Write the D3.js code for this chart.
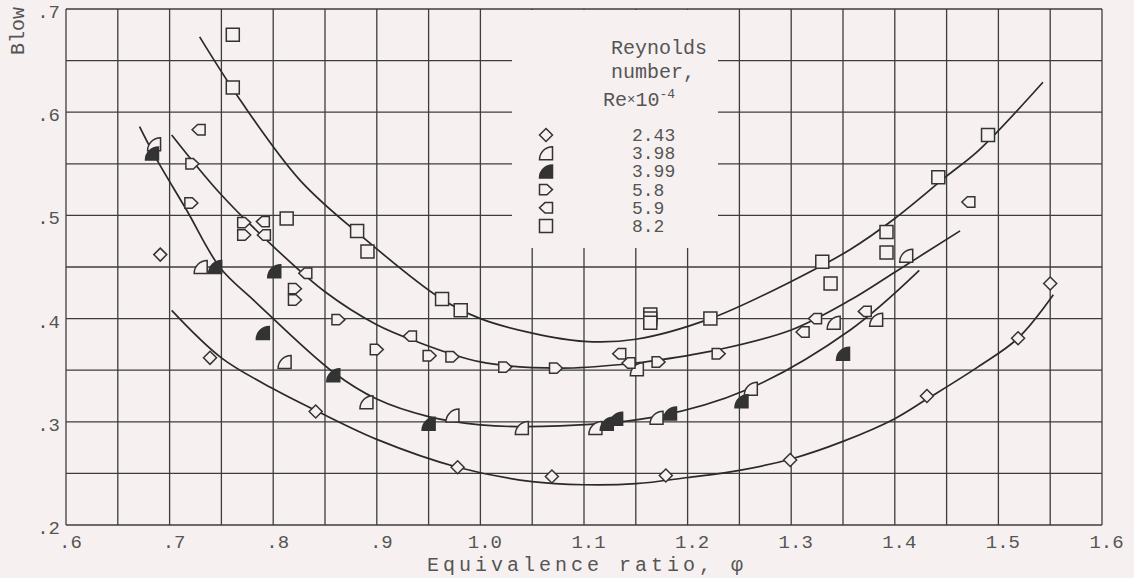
<!DOCTYPE html>
<html><head><meta charset="utf-8">
<script src="https://cdn.jsdelivr.net/npm/d3@7"></script>
<style>
html,body{margin:0;padding:0;background:#f6f1f0;}
svg{display:block;}
text{font-family:"Liberation Mono","DejaVu Sans Mono",monospace;fill:#555;}
</style></head>
<body><svg id="c" width="1134" height="578"></svg>
<script>
// ---- data ----
const xTicks = [0.6,0.7,0.8,0.9,1.0,1.1,1.2,1.3,1.4,1.5,1.6];
const xTickLabels = [".6",".7",".8",".9","1.0","1.1","1.2","1.3","1.4","1.5","1.6"];
const yTicks = [0.2,0.3,0.4,0.5,0.6,0.7];
const yTickLabels = [".2",".3",".4",".5",".6",".7"];
const legendLabels = ["2.43","3.98","3.99","5.8","5.9","8.2"];

const re243 = [[.691,.462],[.739,.362],[.841,.310],[.978,.256],[1.069,.247],[1.179,.248],[1.299,.263],[1.431,.325],[1.519,.381],[1.550,.434]];
const re398 = [[.685,.569],[.730,.450],[.811,.358],[.890,.319],[.973,.306],[1.040,.294],[1.111,.294],[1.151,.351],[1.170,.304],[1.261,.332],[1.341,.396],[1.382,.399],[1.411,.461]];
const re399 = [[.683,.560],[.744,.450],[.790,.386],[.801,.446],[.858,.345],[.950,.298],[1.122,.298],[1.131,.303],[1.183,.308],[1.252,.320],[1.350,.366]];
const re58  = [[.722,.550],[.721,.512],[.772,.493],[.772,.481],[.821,.429],[.821,.418],[.863,.399],[.900,.370],[.951,.364],[.973,.363],[1.024,.353],[1.073,.352],[1.172,.358],[1.230,.366]];
const re59  = [[.728,.583],[.790,.494],[.791,.481],[.831,.444],[.932,.383],[1.134,.366],[1.143,.357],[1.311,.387],[1.323,.400],[1.371,.407],[1.471,.513]];
const re82  = [[.761,.675],[.761,.624],[.813,.497],[.881,.485],[.891,.465],[.963,.419],[.981,.408],[1.164,.404],[1.164,.400],[1.164,.396],[1.222,.400],[1.330,.455],[1.338,.434],[1.392,.484],[1.392,.464],[1.442,.537],[1.490,.578]];

const curveA = [[.729,.673],[.768,.612],[.826,.534],[.884,.481],[.961,.420],[1.0,.400],[1.05,.386],[1.10,.378],[1.15,.380],[1.222,.400],[1.30,.436],[1.357,.467],[1.40,.497],[1.45,.538],[1.481,.563],[1.543,.629]];
const curveB = [[.702,.578],[.749,.521],[.80,.470],[.85,.426],[.90,.394],[.935,.379],[1.0,.358],[1.077,.352],[1.141,.356],[1.173,.360],[1.230,.370],[1.30,.389],[1.357,.418],[1.40,.445],[1.463,.485]];
const curveC = [[.671,.586],[.686,.557],[.7165,.505],[.749,.449],[.781,.418],[.858,.348],[.90,.322],[.95,.305],[1.0,.297],[1.077,.296],[1.170,.305],[1.257,.331],[1.357,.389],[1.4236,.4467]];
const curveD = [[.702,.408],[.75,.362],[.80,.332],[.841,.311],[.90,.283],[.978,.256],[1.05,.242],[1.10,.239],[1.15,.240],[1.20,.246],[1.25,.253],[1.30,.264],[1.35,.281],[1.40,.303],[1.431,.322],[1.48,.353],[1.519,.381],[1.553,.423]];

// ---- drawing ----
const BG = "#f6f1f0", INK = "#333";
const svg = d3.select("#c");
const x = d3.scaleLinear().domain([0.6,1.6]).range([66,1102]);
const y = d3.scaleLinear().domain([0.2,0.7]).range([525,9]);

const gridX = d3.range(0,21).map(i=>0.6+i*0.05);
const gridY = d3.range(0,11).map(i=>0.2+i*0.05);
const grid = svg.append("g").attr("stroke","#3d3d3d").attr("stroke-width",1.3);
grid.selectAll("line.v").data(gridX).join("line").attr("class","v")
  .attr("x1",d=>x(d)).attr("x2",d=>x(d)).attr("y1",y(0.7)).attr("y2",y(0.2));
grid.selectAll("line.h").data(gridY).join("line").attr("class","h")
  .attr("x1",x(0.6)).attr("x2",x(1.6)).attr("y1",d=>y(d)).attr("y2",d=>y(d));

// legend blank area
svg.append("rect").attr("x",512).attr("y",10).attr("width",206).attr("height",238).attr("fill",BG);

// axes labels via d3 axes
const ax = svg.append("g").attr("transform",`translate(0,${y(0.2)})`)
  .call(d3.axisBottom(x).tickValues(xTicks).tickSize(0).tickPadding(10).tickFormat((d,i)=>xTickLabels[i]));
ax.select(".domain").remove();
ax.selectAll("text").attr("font-size",19).attr("dx",4).attr("fill","#555").attr("font-family","Liberation Mono");
const ay = svg.append("g").attr("transform",`translate(${x(0.6)},0)`)
  .call(d3.axisLeft(y).tickValues(yTicks).tickSize(0).tickPadding(6).tickFormat((d,i)=>yTickLabels[i]));
ay.select(".domain").remove();
ay.selectAll("text").attr("font-size",19).attr("fill","#555").attr("font-family","Liberation Mono").attr("dy","0.45em");

svg.append("text").attr("x",587).attr("y",571).attr("text-anchor","middle").attr("font-size",20)
  .attr("letter-spacing",4).text("Equivalence ratio, φ");
svg.append("text").attr("transform","translate(24,55) rotate(-90)").attr("font-size",20).text("Blow");

// curves
const line = d3.line().x(d=>x(d[0])).y(d=>y(d[1])).curve(d3.curveCatmullRom.alpha(0.5));
[curveA,curveB,curveC,curveD].forEach(c=>{
  svg.append("path").attr("d",line(c)).attr("fill","none").attr("stroke","#2a2a2a").attr("stroke-width",1.7);
});

// marker shapes
const h = 6.5;
const shapes = {
  diamond: `M0,${-h} L${h},0 L0,${h} L${-h},0 Z`,
  quarter: `M${h},${h} L${-h},${h} A${2*h},${2*h} 0 0 1 ${h},${-h} Z`,
  right: `M${-h},${-h*0.8} L${h*0.15},${-h*0.8} L${h},0 L${h*0.15},${h*0.8} L${-h},${h*0.8} Z`,
  left: `M${h},${-h*0.8} L${-h*0.15},${-h*0.8} L${-h},0 L${-h*0.15},${h*0.8} L${h},${h*0.8} Z`,
  square: `M${-h},${-h} L${h},${-h} L${h},${h} L${-h},${h} Z`
};
const series = [
  {data:re243, shape:"diamond", fill:BG},
  {data:re398, shape:"quarter", fill:BG},
  {data:re399, shape:"quarter", fill:"#333"},
  {data:re58,  shape:"right", fill:BG},
  {data:re59,  shape:"left", fill:BG},
  {data:re82,  shape:"square", fill:BG}
];
series.forEach(s=>{
  svg.append("g").selectAll("path").data(s.data).join("path")
    .attr("transform",d=>`translate(${x(d[0])},${y(d[1])})`)
    .attr("d",shapes[s.shape]).attr("fill",s.fill).attr("stroke",INK).attr("stroke-width",1.5);
});

// legend
const lg = svg.append("g");
lg.append("text").attr("x",611).attr("y",54).attr("font-size",20).text("Reynolds");
lg.append("text").attr("x",611).attr("y",78).attr("font-size",20).text("number,");
const re = lg.append("text").attr("x",603).attr("y",106).attr("font-size",20);
re.append("tspan").text("Re");
re.append("tspan").attr("font-size",14).attr("dy",-2).text("×");
re.append("tspan").attr("dy",2).text("10");
re.append("tspan").attr("font-size",13).attr("dy",-8).text("-4");
series.forEach((s,i)=>{
  const cy = 135 + i*18.2;
  lg.append("path").attr("transform",`translate(546,${cy})`).attr("d",shapes[s.shape])
    .attr("fill",s.fill).attr("stroke",INK).attr("stroke-width",1.5);
  lg.append("text").attr("x",632).attr("y",cy+6).attr("font-size",18).text(legendLabels[i]);
});
</script></body></html>
